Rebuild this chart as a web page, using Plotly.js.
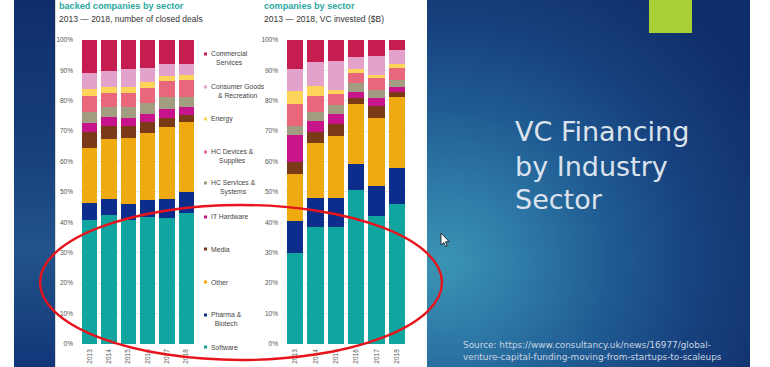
<!DOCTYPE html>
<html>
<head>
<meta charset="utf-8">
<script src="https://cdn.plot.ly/plotly-3.0.1.min.js"></script>
<style>
html,body{margin:0;padding:0;width:770px;height:367px;overflow:hidden;background:#fff;}
#strip{position:absolute;left:14px;top:0;width:41px;height:367px;
 background:linear-gradient(180deg,#0f2e69 0%,#173f7a 40%,#22538c 68%,#1a4480 85%,#12357a 100%);}
#panel{position:absolute;left:55px;top:0;width:372px;height:367px;background:#fff;border-left:1px solid #d8d8d8;}
#slide{position:absolute;left:427px;top:0;width:323px;height:367px;
 background:radial-gradient(ellipse 370px 340px at 15px 262px,#3b95b3 0%,#2e7aa7 22%,#205c93 45%,#17417e 70%,#0f2d6a 100%);}
#plot{position:absolute;left:0;top:0;width:770px;height:367px;}
</style>
</head>
<body>
<div id="strip"></div>
<div id="panel"></div>
<div id="slide"></div>
<div id="plot"></div>
<script>
// ---------- DATA ----------
const years = ['2013','2014','2015','2016','2017','2018'];
const sectors = ['Software','Pharma & Biotech','Other','Media','IT Hardware',
  'HC Services & Systems','HC Devices & Supplies','Energy','Consumer Goods & Recreation','Commercial Services'];
const legendLabels = ['Software','Pharma &<br>Biotech','Other','Media','IT Hardware',
  'HC Services &<br>Systems','HC Devices &<br>Supplies','Energy','Consumer Goods<br>& Recreation','Commercial<br>Services'];
const colors = ['#10a59e','#0c2d8c','#eeaa10','#7a3a18','#c7148a','#a29c80','#e8677b','#fdd35a','#e3a2c9','#c51d50'];

// share of closed deals (%)
const dealsSoftware   = [40.8, 42.4, 40.8, 41.7, 41.3, 43.0];
const dealsPharma     = [5.5, 5.2, 5.2, 5.7, 6.3, 7.1];
const dealsOther      = [18.3, 19.7, 21.9, 22.1, 23.7, 22.8];
const dealsMedia      = [5.0, 4.5, 3.9, 3.6, 2.9, 2.4];
const dealsIT         = [3.0, 2.8, 2.4, 2.4, 3.1, 2.6];
const dealsHCServices = [3.6, 3.5, 3.9, 3.9, 4.1, 3.5];
const dealsHCDevices  = [5.4, 4.6, 4.6, 4.9, 5.1, 5.4];
const dealsEnergy     = [2.2, 1.9, 1.7, 1.8, 1.8, 1.7];
const dealsConsumer   = [5.4, 5.3, 6.0, 4.8, 3.7, 3.5];
const dealsCommercial = [10.8, 10.1, 9.6, 9.1, 8.0, 8.0];

// share of VC invested (%)
const investSoftware   = [29.8, 38.4, 38.4, 50.5, 42.2, 46.1];
const investPharma     = [10.8, 9.6, 9.6, 8.8, 9.9, 11.8];
const investOther      = [15.2, 18.1, 20.3, 19.5, 22.1, 23.2];
const investMedia      = [4.2, 3.6, 4.2, 2.0, 4.0, 1.8];
const investIT         = [8.6, 3.7, 3.1, 2.1, 2.6, 1.5];
const investHCServices = [3.1, 2.9, 2.9, 2.8, 2.9, 2.4];
const investHCDevices  = [7.1, 5.2, 3.6, 3.5, 3.9, 3.9];
const investEnergy     = [4.5, 3.3, 1.6, 1.2, 0.8, 1.4];
const investConsumer   = [7.0, 8.0, 9.5, 4.1, 6.3, 4.6];
const investCommercial = [9.7, 7.2, 6.8, 5.5, 5.3, 3.3];

const yTicks = [0,10,20,30,40,50,60,70,80,90,100];
const yTickLabels = ['0%','10%','20%','30%','40%','50%','60%','70%','80%','90%','100%'];

const dealsSeries = [dealsSoftware,dealsPharma,dealsOther,dealsMedia,dealsIT,dealsHCServices,dealsHCDevices,dealsEnergy,dealsConsumer,dealsCommercial];
const investSeries = [investSoftware,investPharma,investOther,investMedia,investIT,investHCServices,investHCDevices,investEnergy,investConsumer,investCommercial];

// ---------- helpers (pixel -> paper) ----------
const W = 770, H = 367;
const px = x => x / W;
const py = y => (H - y) / H;
const FONT = 'Liberation Sans, Arial, sans-serif';
const SLIDEFONT = 'DejaVu Sans, Lato, sans-serif';

const traces = [];
sectors.forEach((s, i) => {
  traces.push({type:'bar', x: years, y: dealsSeries[i], name: s, marker:{color: colors[i], line:{width:0}},
    xaxis:'x', yaxis:'y', showlegend:false, hoverinfo:'skip'});
});
sectors.forEach((s, i) => {
  traces.push({type:'bar', x: years, y: investSeries[i], name: s, marker:{color: colors[i], line:{width:0}},
    xaxis:'x2', yaxis:'y2', showlegend:false, hoverinfo:'skip'});
});

const yCommon = {
  range:[0,100], tickmode:'array', tickvals: yTicks, ticktext: yTickLabels, showgrid:true, gridcolor:'#e6e6e6', gridwidth:0.8,
  zeroline:false, showline:false, ticks:'', tickfont:{size:6.5, color:'#555', family:FONT},
  ticklabelstandoff:6, fixedrange:true, domain:[0.063, 0.891]
};
const xCommon = {
  type:'category', tickangle:-90, showgrid:false, zeroline:false, showline:false, ticks:'',
  tickfont:{size:6.5, color:'#555', family:FONT}, ticklabelstandoff:3, fixedrange:true
};

// legend (annotations + square markers)
const legendMarkerY = [347, 315, 282, 249, 217, 183, 152, 119, 87, 54];
const annotations = [];
const shapes = [];
sectors.forEach((s, i) => {
  const twoLines = legendLabels[i].indexOf('<br>') >= 0;
  const cy = legendMarkerY[i] + (twoLines ? 4.3 : 0);
  annotations.push({xref:'paper', yref:'paper', x: px(208.5), y: py(cy), xanchor:'left', yanchor:'middle',
    text: legendLabels[i], showarrow:false, align:'center',
    font:{size:6.8, color:'#444', family:FONT}});
  shapes.push({type:'rect', xref:'paper', yref:'paper', x0: px(204), x1: px(207), y0: py(legendMarkerY[i]+1.5), y1: py(legendMarkerY[i]-1.5),
    fillcolor: colors[i], line:{width:0}, layer:'above'});
});

// chart titles
annotations.push({xref:'paper', yref:'paper', x:px(57), y:py(6.5), xanchor:'left', yanchor:'middle', showarrow:false,
  text:'<b>backed companies by sector</b>', font:{size:9.1, color:'#2aa89f', family:FONT}});
annotations.push({xref:'paper', yref:'paper', x:px(57), y:py(19.5), xanchor:'left', yanchor:'middle', showarrow:false,
  text:'2013 — 2018, number of closed deals', font:{size:8.5, color:'#333', family:FONT}});
annotations.push({xref:'paper', yref:'paper', x:px(262), y:py(6.5), xanchor:'left', yanchor:'middle', showarrow:false,
  text:'<b>companies by sector</b>', font:{size:9.1, color:'#2aa89f', family:FONT}});
annotations.push({xref:'paper', yref:'paper', x:px(262), y:py(19.5), xanchor:'left', yanchor:'middle', showarrow:false,
  text:'2013 — 2018, VC invested ($B)', font:{size:8.5, color:'#333', family:FONT}});

// slide title
const slideLines = ['VC Financing','by Industry','Sector'];
const slideY = [131, 166, 199];
slideLines.forEach((t, i) => {
  annotations.push({xref:'paper', yref:'paper', x:px(513), y:py(slideY[i]), xanchor:'left', yanchor:'middle', showarrow:false,
    text:t, font:{size:27, color:'#dce3ec', family:SLIDEFONT, weight:'normal'}});
});
// source
annotations.push({xref:'paper', yref:'paper', x:px(461), y:py(351), xanchor:'left', yanchor:'middle', showarrow:false, align:'left',
  text:'Source: https://www.consultancy.uk/news/16977/global-<br>venture-capital-funding-moving-from-startups-to-scaleups',
  font:{size:8.9, color:'#c9d5e2', family:SLIDEFONT, weight:'normal'}});

// green square
shapes.push({type:'rect', xref:'paper', yref:'paper', x0:px(649), x1:px(692), y0:py(33), y1:py(-2),
  fillcolor:'#abcf37', line:{width:0}, layer:'above'});
// red ellipse
shapes.push({type:'circle', xref:'paper', yref:'paper', x0:px(40), x1:px(442), y0:py(360), y1:py(205),
  line:{color:'#e8141c', width:2.4}, fillcolor:'rgba(0,0,0,0)', layer:'above'});
// mouse cursor
const cur = [[441,233],[441,245],[443.8,242.5],[445.6,246.5],[447.2,245.8],[445.4,241.8],[449,241.6]];
shapes.push({type:'path', xref:'paper', yref:'paper',
  path: 'M' + cur.map(p => px(p[0]) + ',' + py(p[1])).join(' L') + ' Z',
  fillcolor:'#ffffff', line:{color:'#111', width:0.8}, layer:'above'});

const layout = {
  width:W, height:H, margin:{l:0,r:0,t:0,b:0,pad:0},
  paper_bgcolor:'rgba(0,0,0,0)', plot_bgcolor:'rgba(0,0,0,0)',
  barmode:'stack', bargap:0.2,
  xaxis: Object.assign({}, xCommon, {domain:[px(80), px(196)], anchor:'y'}),
  yaxis: Object.assign({}, yCommon, {anchor:'x'}),
  xaxis2: Object.assign({}, xCommon, {domain:[px(285), px(407)], anchor:'y2'}),
  yaxis2: Object.assign({}, yCommon, {anchor:'x2'}),
  annotations: annotations, shapes: shapes, showlegend:false
};
Plotly.newPlot('plot', traces, layout, {staticPlot:true, displayModeBar:false});
</script>
</body>
</html>
